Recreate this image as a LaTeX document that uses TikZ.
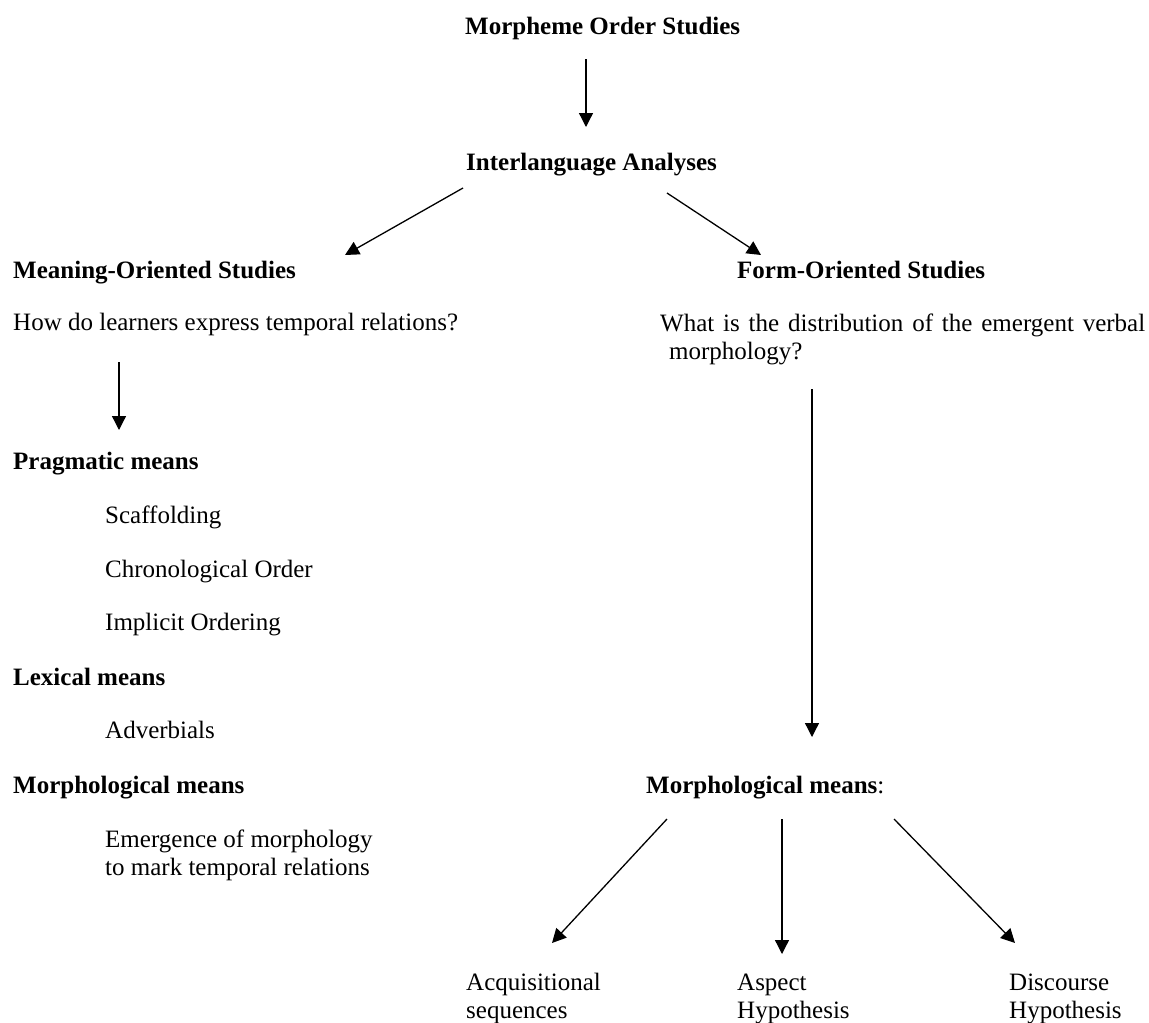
\documentclass[tikz,border=0pt]{standalone}
\usepackage{fontspec}
\setmainfont{Liberation Serif}
\usetikzlibrary{arrows.meta}
\begin{document}
\begin{tikzpicture}[x=1pt,y=-1pt,
  every node/.style={font=\fontsize{25}{28}\selectfont, inner sep=0pt, anchor=base west},
  head/.style={font=\fontsize{25}{28}\selectfont\bfseries},
  arr/.style={line width=1.3pt, -{Triangle[length=14pt,width=14pt]}}]
\useasboundingbox (0,0) rectangle (1149,1023);

% nodes
\node[head] (mos) at (465,34) {Morpheme Order Studies};
\node[head] (ia) at (466,170) {Interlanguage Analyses};
\node[head] (mean) at (13,278) {Meaning-Oriented Studies};
\node[head] (form) at (737,278) {Form-Oriented Studies};
\node (howq) at (13,330) {How do learners express temporal relations?};
\node (whatq) at (660,331) {\parbox[t]{490pt}{\fontsize{25}{28}\selectfont\makebox[485pt][s]{What is the distribution of the emergent verbal}\\\hspace*{9pt}morphology?}};
\node[head] (prag) at (13,469) {Pragmatic means};
\node (scaf) at (105,523) {Scaffolding};
\node (chron) at (105,577) {Chronological Order};
\node (impl) at (105,630) {Implicit Ordering};
\node[head] (lex) at (13,685) {Lexical means};
\node (adv) at (105,738) {Adverbials};
\node[head] (morphL) at (13,793) {Morphological means};
\node (emerg) at (105,847) {\parbox[t]{330pt}{Emergence of morphology\\to mark temporal relations}};
\node (morphR) at (646,793) {\textbf{Morphological means}:};
\node (acq) at (466,990) {\parbox[t]{160pt}{Acquisitional\\sequences}};
\node (asp) at (737,990) {\parbox[t]{140pt}{Aspect\\Hypothesis}};
\node (disc) at (1009,990) {\parbox[t]{138pt}{Discourse\\Hypothesis}};

% connectors
\draw[arr] ([shift={(121,25)}]mos.base west) -- ([shift={(120,-43)}]ia.base west);
\draw[arr] ([shift={(-3,18)}]ia.base west) -- ([shift={(332,-23)}]mean.base west);
\draw[arr] ([shift={(201,23)}]ia.base west) -- ([shift={(24,-23)}]form.base west);
\draw[arr] ([shift={(106,32)}]howq.base west) -- ([shift={(106,-39)}]prag.base west);
\draw[arr] ([shift={(152,58)}]whatq.base west) -- ([shift={(166,-56)}]morphR.base west);
\draw[arr] ([shift={(21,26)}]morphR.base west) -- ([shift={(86,-47)}]acq.base west);
\draw[arr] ([shift={(136,26)}]morphR.base west) -- ([shift={(45,-36)}]asp.base west);
\draw[arr] ([shift={(248,26)}]morphR.base west) -- ([shift={(6,-47)}]disc.base west);
\end{tikzpicture}
\end{document}
